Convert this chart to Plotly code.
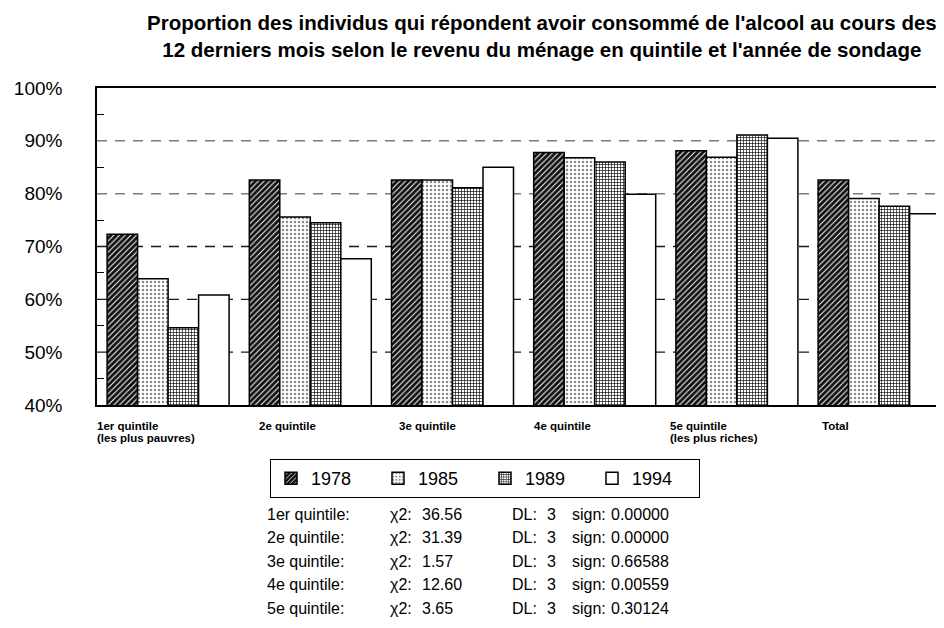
import plotly.graph_objects as go

# ---------------- data ----------------
categories = ["1er quintile", "2e quintile", "3e quintile", "4e quintile", "5e quintile", "Total"]
sublabels = ["(les plus pauvres)", "", "", "", "(les plus riches)", ""]
years = ["1978", "1985", "1989", "1994"]
v1978 = [72.3, 82.6, 82.6, 87.8, 88.1, 82.6]
v1985 = [63.9, 75.6, 82.6, 86.8, 86.9, 79.1]
v1989 = [54.6, 74.5, 81.1, 86.0, 91.1, 77.6]
v1994 = [60.8, 67.7, 85.0, 79.9, 90.5, 76.2]
series = [v1978, v1985, v1989, v1994]

yticks = [40, 50, 60, 70, 80, 90, 100]
minor_ticks = [45, 55, 65, 75, 85, 95]
grid_dark = [50, 60, 70]
grid_light = [80, 90]

stat_names = ["1er quintile:", "2e quintile:", "3e quintile:", "4e quintile:", "5e quintile:"]
chi2 = ["36.56", "31.39", "1.57", "12.60", "3.65"]
dl = ["3", "3", "3", "3", "3"]
sign = ["0.00000", "0.00000", "0.66588", "0.00559", "0.30124"]

title = ("Proportion des individus qui répondent avoir consommé de l'alcool au cours des<br>"
         "12 derniers mois selon le revenu du ménage en quintile et l'année de sondage")

# ---------------- style ----------------
FONT = "Liberation Sans, Arial, Helvetica, sans-serif"
W, H = 944, 628
OFF = 8  # page body margin offset of the rendered figure
L, R, T, B = 97 - OFF, 0, 88 - OFF, 628 - 405 + OFF
PW, PH = W - L - R, H - T - B
BAND = 142.2

patterns = [
    dict(shape="/", bgcolor="#111111", fgcolor="white", size=4, solidity=0.25, fillmode="replace"),
    dict(shape=".", bgcolor="white", fgcolor="#8a8a8a", size=4, solidity=0.3, fillmode="replace"),
    dict(shape="+", bgcolor="white", fgcolor="#111111", size=3, solidity=0.4, fillmode="replace"),
    dict(shape="", bgcolor="white", fgcolor="white", size=4, solidity=0.3, fillmode="replace"),
]


def px2paper(x, y):
    """screen pixel -> paper coords (accounting for page offset)"""
    fx, fy = x - OFF, y - OFF
    return (fx - L) / PW, (H - B - fy) / PH


fig = go.Figure()
for name, vals, pat in zip(years, series, patterns):
    fig.add_trace(go.Bar(
        x=categories, y=vals, name=name,
        marker=dict(color="white", pattern=pat, line=dict(color="black", width=1.5)),
    ))

shapes = []
for g in grid_light:
    shapes.append(dict(type="line", xref="paper", x0=0, x1=1, yref="y", y0=g, y1=g,
                       line=dict(color="#7a7a7a", width=1.5, dash="10px,8px"), layer="below"))
for g in grid_dark:
    shapes.append(dict(type="line", xref="paper", x0=0, x1=1, yref="y", y0=g, y1=g,
                       line=dict(color="#1a1a1a", width=1.3, dash="10px,8px"), layer="below"))

annotations = []
# title
tx, ty = px2paper(542, 9)
annotations.append(dict(x=tx, y=ty, xref="paper", yref="paper", text=title, showarrow=False,
                        xanchor="center", yanchor="top", align="center",
                        font=dict(family=FONT, size=20.5, color="black", weight="bold")))

# category labels (two lines, bold, left aligned at group start)
label_shift = [-73, -53, -56, -63, -69, -59]
_, ly1 = px2paper(0, 425.5)
_, ly2 = px2paper(0, 437.5)
for cat, sub, sh in zip(categories, sublabels, label_shift):
    annotations.append(dict(x=cat, xref="x", y=ly1, yref="paper", text=cat, showarrow=False,
                            xanchor="left", yanchor="middle", xshift=sh,
                            font=dict(family=FONT, size=11.5, color="black", weight="bold")))
    if sub:
        annotations.append(dict(x=cat, xref="x", y=ly2, yref="paper", text=sub, showarrow=False,
                                xanchor="left", yanchor="middle", xshift=sh,
                                font=dict(family=FONT, size=11.5, color="black", weight="bold")))

# statistics table
row_y = [514, 537.5, 561, 584.5, 608]
col_x = [265, 388, 420, 510, 545, 570, 609]
for i in range(len(stat_names)):
    cells = [stat_names[i], "χ2:", chi2[i], "DL:", dl[i], "sign:", sign[i]]
    for cx, txt in zip(col_x, cells):
        px, py = px2paper(cx, row_y[i])
        annotations.append(dict(x=px, y=py, xref="paper", yref="paper", text=txt, showarrow=False,
                                xanchor="left", yanchor="middle",
                                font=dict(family=FONT, size=16, color="black")))

lx, ly = px2paper(485, 459)

fig.update_layout(
    width=W, height=H,
    margin=dict(l=L, r=R, t=T, b=B, pad=0),
    paper_bgcolor="white", plot_bgcolor="white",
    font=dict(family=FONT, color="black"),
    barmode="group", bargap=0.142, bargroupgap=0,
    xaxis=dict(type="category", range=[-0.5, -0.5 + PW / BAND], showticklabels=False,
               showgrid=False, zeroline=False, showline=True, linecolor="black", linewidth=1.5,
               mirror=True, ticks=""),
    yaxis=dict(range=[40, 100], tickmode="array", tickvals=yticks,
               ticktext=[f"{v}%" for v in yticks], showgrid=False, zeroline=False,
               showline=True, linecolor="black", linewidth=1.5, mirror=False, ticks="",
               ticklabelstandoff=29,
               tickfont=dict(family=FONT, size=19, color="black"),
               minor=dict(tickmode="array", tickvals=minor_ticks, ticks="inside",
                          ticklen=7, tickwidth=1, tickcolor="black", showgrid=False)),
    legend=dict(orientation="h", x=lx, y=ly, xanchor="center", yanchor="top",
                bordercolor="black", borderwidth=1, bgcolor="white",
                font=dict(family=FONT, size=18, color="black"),
                entrywidth=62, entrywidthmode="pixels", tracegroupgap=0,
                itemclick=False),
    shapes=shapes,
    annotations=annotations,
    showlegend=True,
)

fig.write_html("out.html")
